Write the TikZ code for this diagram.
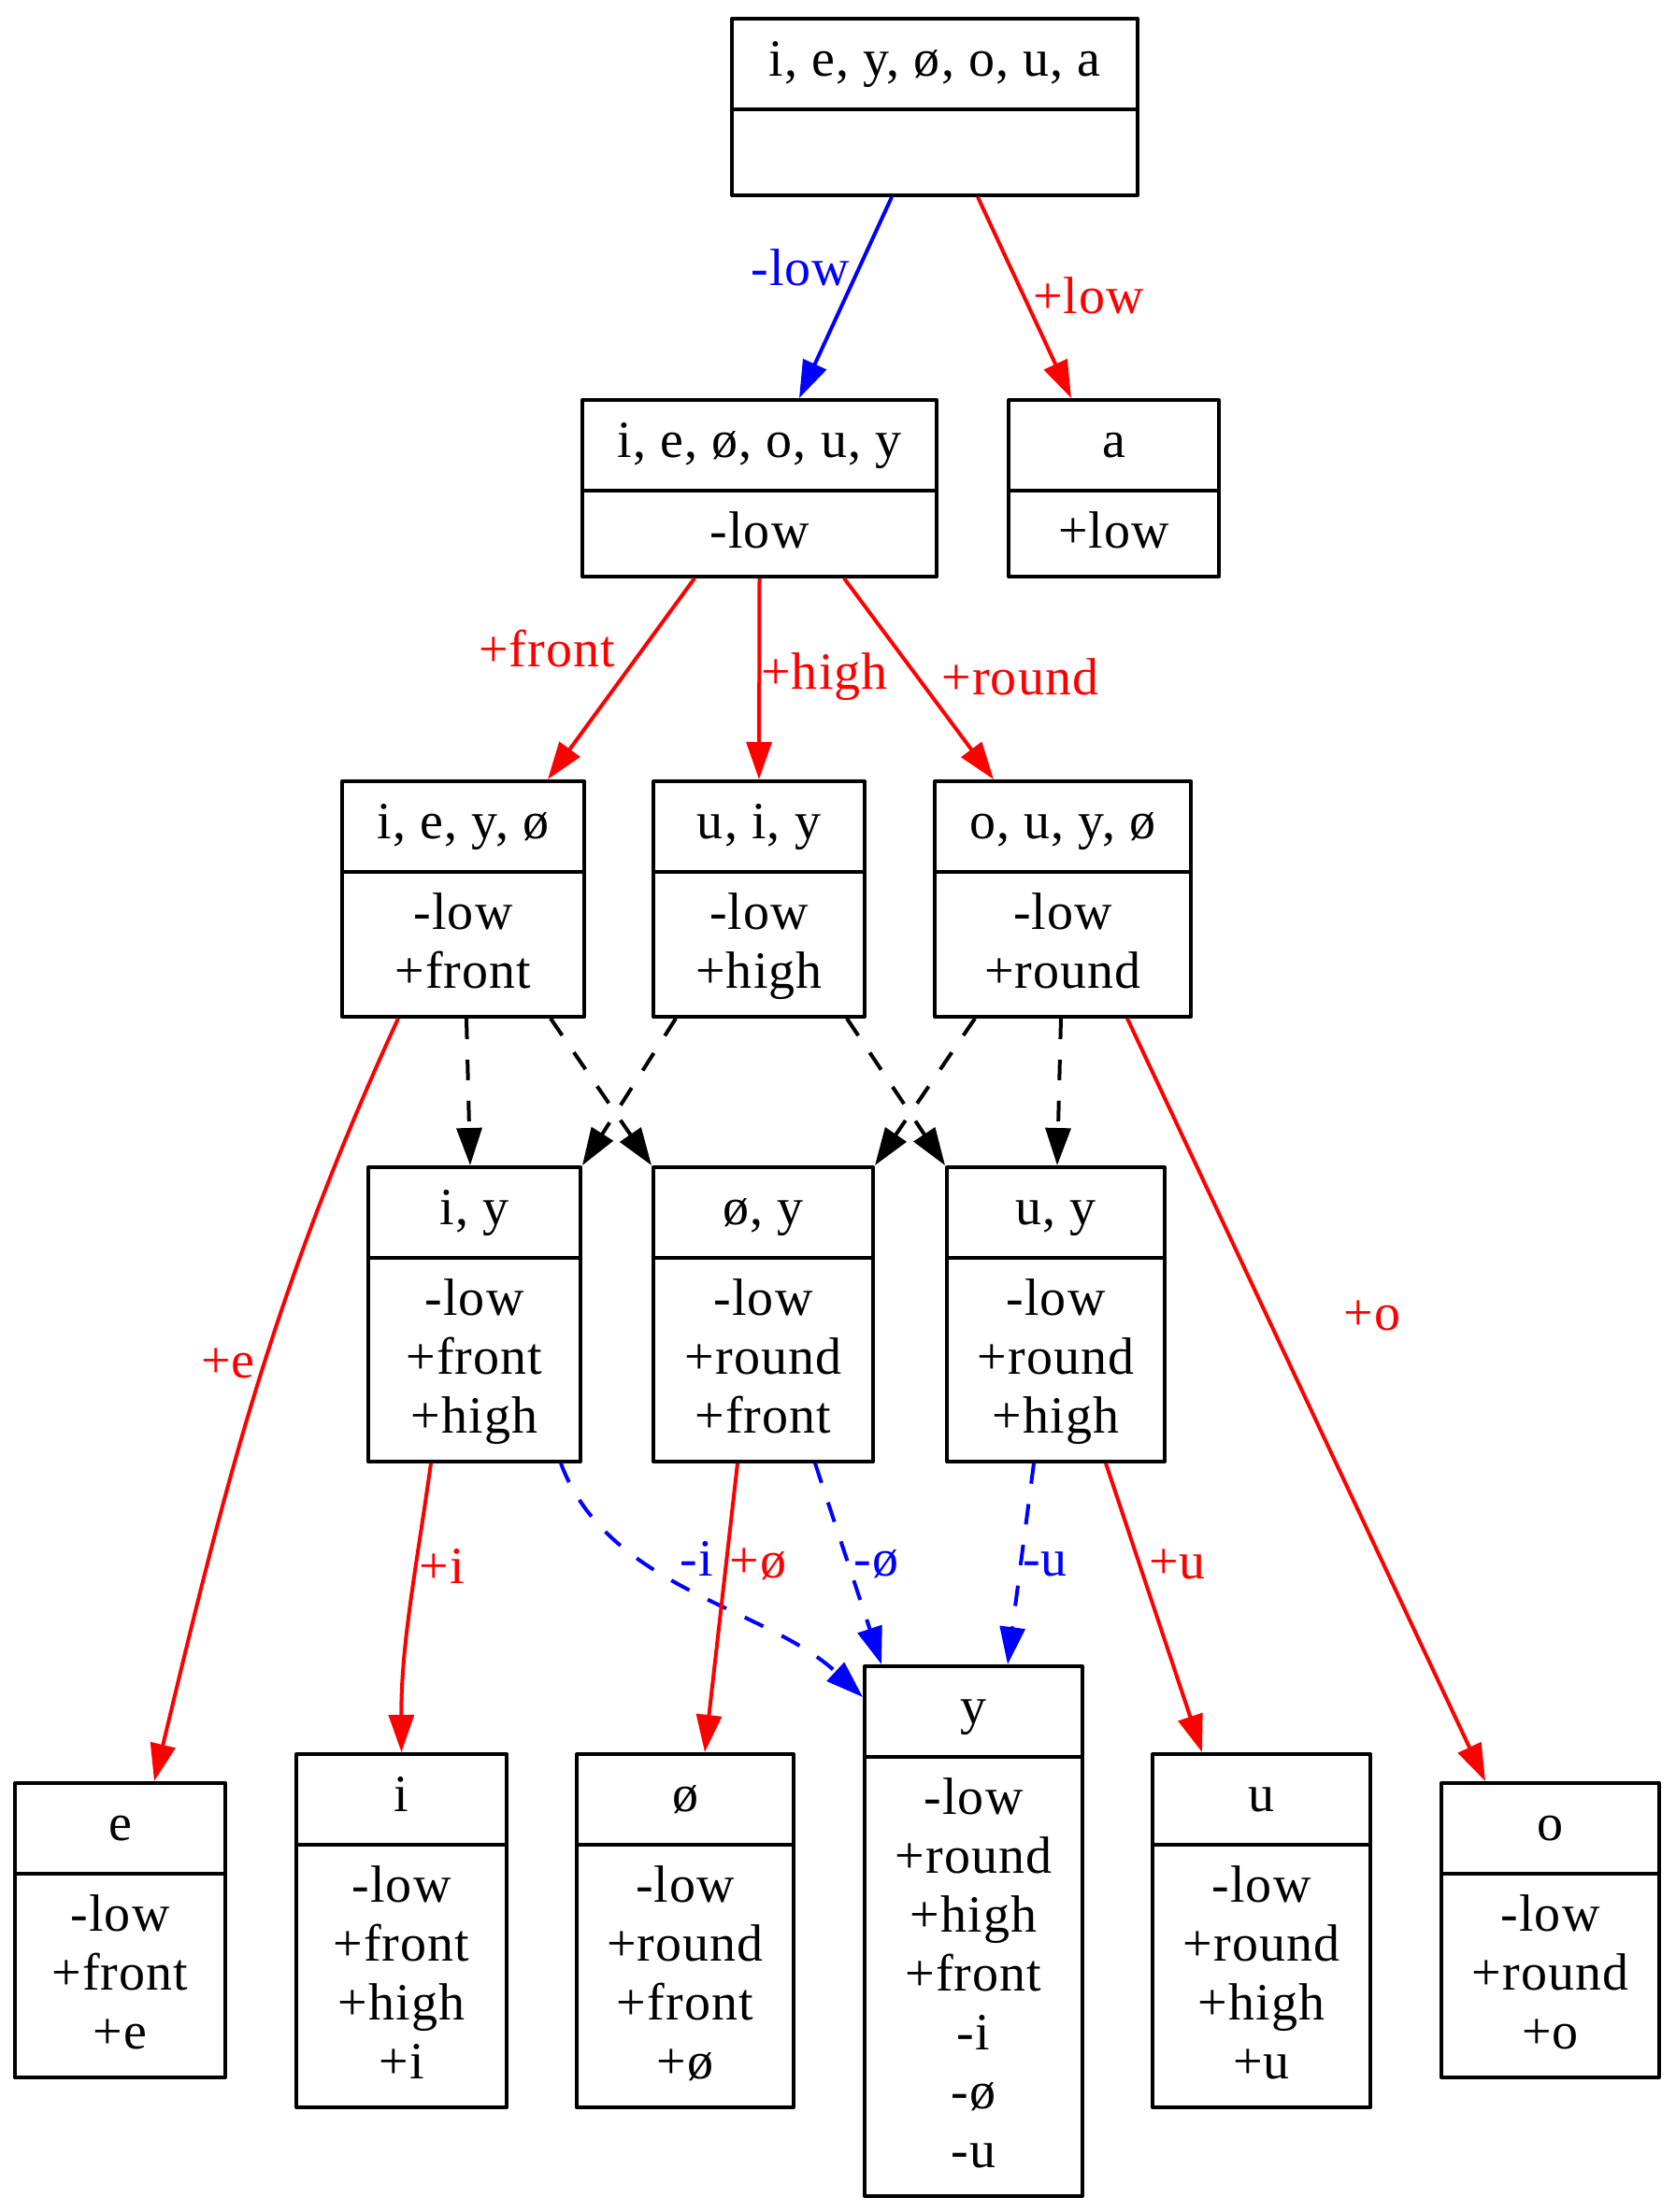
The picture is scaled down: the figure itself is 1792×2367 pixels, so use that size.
\documentclass[tikz,border=0pt]{standalone}
\usepackage{fontspec}
\setmainfont[LetterSpace=2]{Liberation Serif}
\usetikzlibrary{shapes.multipart,arrows.meta}
\newcommand{\rows}[1]{\begin{tabular}{@{}c@{}}#1\end{tabular}}
\newcommand{\feats}[1]{\raisebox{0pt}[\height][\dimexpr\depth-1.5pt\relax]{\rows{#1}}}

\begin{document}
\begin{tikzpicture}[x=0.25pt, y=-0.25pt, line width=1pt, line join=round,
	font=\fontsize{14}{15.75}\selectfont,
	rec/.style={rectangle split, rectangle split parts=2, draw, anchor=north,
		inner xsep=0pt, inner ysep=3.8pt, minimum width=#1},
	rec/.default=56pt,
	edge/.style={-{Triangle[length=10pt,width=6.7pt]}},
	plusedge/.style={edge, red},
	minusedge/.style={edge, blue},
	subedge/.style={edge, dash pattern=on 5.5pt off 5.5pt},
	lbl/.style={inner sep=2pt}]
	\useasboundingbox (0,0) rectangle (1792,2367);
	% records
	\node[rec=108.5pt] (all) at (1000,18) {\rows{i, e, y, ø, o, u, a}\nodepart{second}\feats{\strut}};
	\node[rec=94.75pt] (nonlow) at (812.5,426) {\rows{i, e, ø, o, u, y}\nodepart{second}\feats{-low}};
	\node[rec=56.25pt] (low) at (1191.5,426) {\rows{a}\nodepart{second}\feats{+low}};
	\node[rec=64.75pt] (front) at (495.5,834) {\rows{i, e, y, ø}\nodepart{second}\feats{-low\\+front}};
	\node[rec=56.5pt] (high) at (812,834) {\rows{u, i, y}\nodepart{second}\feats{-low\\+high}};
	\node[rec=68.5pt] (round) at (1137,834) {\rows{o, u, y, ø}\nodepart{second}\feats{-low\\+round}};
	\node[rec=56.75pt] (iy) at (507.5,1247) {\rows{i, y}\nodepart{second}\feats{-low\\+front\\+high}};
	\node[rec=58.75pt] (oey) at (816.5,1247) {\rows{ø, y}\nodepart{second}\feats{-low\\+round\\+front}};
	\node[rec=58.25pt] (uy) at (1129.5,1247) {\rows{u, y}\nodepart{second}\feats{-low\\+round\\+high}};
	\node[rec=56.25pt] (e) at (128.5,1906) {\rows{e}\nodepart{second}\feats{-low\\+front\\+e}};
	\node[rec=56.25pt] (i) at (429.5,1875) {\rows{i}\nodepart{second}\feats{-low\\+front\\+high\\+i}};
	\node[rec=58pt] (oe) at (733,1875) {\rows{ø}\nodepart{second}\feats{-low\\+round\\+front\\+ø}};
	\node[rec=58.25pt] (y) at (1041.5,1781) {\rows{y}\nodepart{second}\feats{-low\\+round\\+high\\+front\\-i\\-ø\\-u}};
	\node[rec=58.25pt] (u) at (1349.5,1875) {\rows{u}\nodepart{second}\feats{-low\\+round\\+high\\+u}};
	\node[rec=58.25pt] (o) at (1658.5,1906) {\rows{o}\nodepart{second}\feats{-low\\+round\\+o}};
	% first split
	\draw[minusedge] ([shift={(-46,0)}]all.south) -- node[lbl, pos=0.35, left] {-low} ([shift={(42.5,0)}]nonlow.north);
	\draw[plusedge] ([shift={(46,0)}]all.south) -- node[lbl, pos=0.49, right] {+low} ([shift={(-45.5,0)}]low.north);
	% second split
	\draw[plusedge] ([shift={(-69.5,0)}]nonlow.south) -- node[lbl, pos=0.35, left=5pt] {+front} ([shift={(90.5,0)}]front.north);
	\draw[plusedge] (nonlow.south) -- node[lbl, pos=0.49, right, inner sep=0pt] {+high} (high.north);
	\draw[plusedge] ([shift={(90.5,0)}]nonlow.south) -- node[lbl, pos=0.49, right=4pt] {+round} ([shift={(-74,0)}]round.north);
	% intersections
	\draw[subedge] ([shift={(3.5,0)}]front.south) -- ([shift={(-4.5,0)}]iy.north);
	\draw[subedge] ([shift={(93.5,0)}]front.south) -- (oey.north west);
	\draw[subedge] ([shift={(-89,0)}]high.south) -- (iy.north east);
	\draw[subedge] ([shift={(94,0)}]high.south) -- (uy.north west);
	\draw[subedge] ([shift={(-94,0)}]round.south) -- (oey.north east);
	\draw[subedge] ([shift={(-2,0)}]round.south) -- ([shift={(1.5,0)}]uy.north);
	% leaves
	\draw[plusedge] ([shift={(-69.5,0)}]front.south) .. controls (288,1390) and (237,1606) .. ([shift={(36.5,0)}]e.north) node[lbl, pos=0.45, left] {+e};
	\draw[plusedge] ([shift={(69,0)}]round.south) -- node[lbl, pos=0.39, right=18pt] {+o} ([shift={(-69.5,0)}]o.north);
	\draw[plusedge] ([shift={(-46.5,0)}]iy.south) .. controls (445,1680) and (429,1760) .. (i.north) node[lbl, pos=0.35, right, inner sep=0.5pt] {+i};
	\draw[minusedge, subedge] ([shift={(92.5,0)}]iy.south) .. controls (650,1700) and (820,1720) .. ([shift={(0,35)}]y.north west) node[lbl, pos=0.33, right=9pt] {-i};
	\draw[plusedge] ([shift={(-27.5,0)}]oey.south) -- node[lbl, pos=0.35, right, inner sep=0.5pt] {+ø} ([shift={(21,0)}]oe.north);
	\draw[minusedge, subedge] ([shift={(55.5,0)}]oey.south) -- node[lbl, pos=0.5, right, inner sep=1pt] {-ø} ([shift={(-98.5,0)}]y.north);
	\draw[minusedge, subedge] ([shift={(-23.5,0)}]uy.south) -- node[lbl, pos=0.5, right, inner sep=0pt] {-u} ([shift={(36.5,0)}]y.north);
	\draw[plusedge] ([shift={(53.5,0)}]uy.south) -- node[lbl, pos=0.35, right] {+u} ([shift={(-63.5,0)}]u.north);
\end{tikzpicture}
\end{document}
